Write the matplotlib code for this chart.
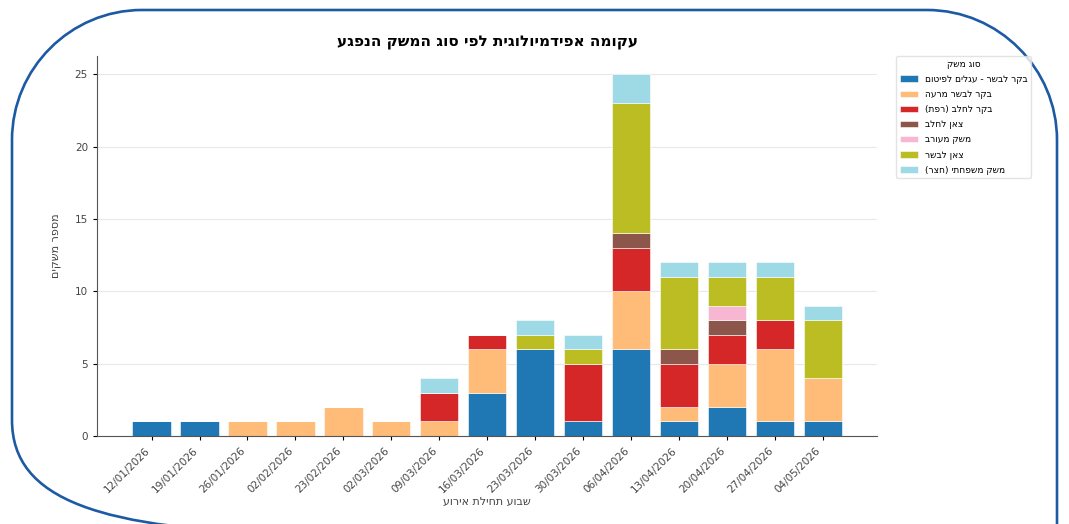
import matplotlib
matplotlib.use("Agg")
import matplotlib.pyplot as plt
from matplotlib.path import Path
from matplotlib.patches import PathPatch
import numpy as np


def rtl(s):
    # matplotlib has no bidi support, so flip hebrew strings by hand
    swap = {"(": ")", ")": "("}
    return "".join(swap.get(c, c) for c in s[::-1])


weeks = ["12/01/2026", "19/01/2026", "26/01/2026", "02/02/2026", "23/02/2026",
         "02/03/2026", "09/03/2026", "16/03/2026", "23/03/2026", "30/03/2026",
         "06/04/2026", "13/04/2026", "20/04/2026", "27/04/2026", "04/05/2026"]

farm_types = ["בקר לבשר - עגלים לפיטום", "בקר לבשר מרעה", "בקר לחלב (רפת)",
              "צאן לחלב", "משק מעורב", "צאן לבשר", "משק משפחתי (חצר)"]

beef_fattening = [1, 1, 0, 0, 0, 0, 0, 3, 6, 1, 6, 1, 2, 1, 1]
beef_pasture = [0, 0, 1, 1, 2, 1, 1, 3, 0, 0, 4, 1, 3, 5, 3]
dairy_cattle = [0, 0, 0, 0, 0, 0, 2, 1, 0, 4, 3, 3, 2, 2, 0]
dairy_sheep = [0, 0, 0, 0, 0, 0, 0, 0, 0, 0, 1, 1, 1, 0, 0]
mixed_farm = [0, 0, 0, 0, 0, 0, 0, 0, 0, 0, 0, 0, 1, 0, 0]
meat_sheep = [0, 0, 0, 0, 0, 0, 0, 0, 1, 1, 9, 5, 2, 3, 4]
backyard = [0, 0, 0, 0, 0, 0, 1, 0, 1, 1, 2, 1, 1, 1, 1]

series = [beef_fattening, beef_pasture, dairy_cattle, dairy_sheep,
          mixed_farm, meat_sheep, backyard]
colors = ["#1f77b4", "#ffbb78", "#d62728", "#8c564b", "#f7b6d2", "#bcbd22", "#9edae5"]

fig = plt.figure(figsize=(10.69, 5.24), dpi=100)

# blue rounded frame of the report page (pixel coords, y down)
frame_ax = fig.add_axes([0, 0, 1, 1])
frame_ax.set_xlim(0, 1069)
frame_ax.set_ylim(524, 0)
frame_ax.axis("off")
k = 0.55
verts = [(1057, 560), (1057, 140),
         (1057, 140 - 130 * k), (927 + 130 * k, 10), (927, 10),
         (142, 10),
         (142 - 130 * k, 10), (12, 140 - 130 * k), (12, 140),
         (12, 420),
         (12, 500), (100, 530), (300, 534),
         (1057, 560)]
codes = [Path.MOVETO, Path.LINETO,
         Path.CURVE4, Path.CURVE4, Path.CURVE4,
         Path.LINETO,
         Path.CURVE4, Path.CURVE4, Path.CURVE4,
         Path.LINETO,
         Path.CURVE4, Path.CURVE4, Path.CURVE4,
         Path.LINETO]
frame_ax.add_patch(PathPatch(Path(verts, codes), fill=False,
                             edgecolor="#1c5aa3", linewidth=1.9))

ax = fig.add_axes([0.0907, 0.168, 0.730, 0.725])
x = np.arange(len(weeks))
bottom = np.zeros(len(weeks))
for name, vals, col in zip(farm_types, series, colors):
    ax.bar(x, vals, 0.8, bottom=bottom, color=col, label=rtl(name),
           edgecolor="white", linewidth=0.4)
    bottom += np.array(vals)

ax.set_xticks(x)
ax.set_xticklabels(weeks, rotation=45, ha="right", fontsize=7.5, color="#444444")
ax.set_yticks([0, 5, 10, 15, 20, 25])
ax.tick_params(axis="y", labelsize=7.5, labelcolor="#444444", length=3)
ax.tick_params(axis="x", length=3)
ax.yaxis.grid(True, color="#e8e8e8", linewidth=0.8)
ax.set_axisbelow(True)
for s in ["top", "right"]:
    ax.spines[s].set_visible(False)
for s in ["left", "bottom"]:
    ax.spines[s].set_color("#555555")

ax.set_title(rtl("עקומה אפידמיולוגית לפי סוג המשק הנפגע"), fontsize=11,
             fontweight="bold", pad=7)
ax.set_ylabel(rtl("מספר משקים"), fontsize=8, color="#444444", labelpad=10)
ax.set_xlabel(rtl("שבוע תחילת אירוע"), fontsize=8, color="#444444", labelpad=2)

leg = ax.legend(title=rtl("סוג משק"), loc="upper left", bbox_to_anchor=(1.024, 1.0),
                fontsize=6.5, title_fontsize=6.5, frameon=True, borderaxespad=0,
                labelspacing=0.68)
leg.get_frame().set_edgecolor("#dddddd")

fig.savefig("out.png", dpi=100)
